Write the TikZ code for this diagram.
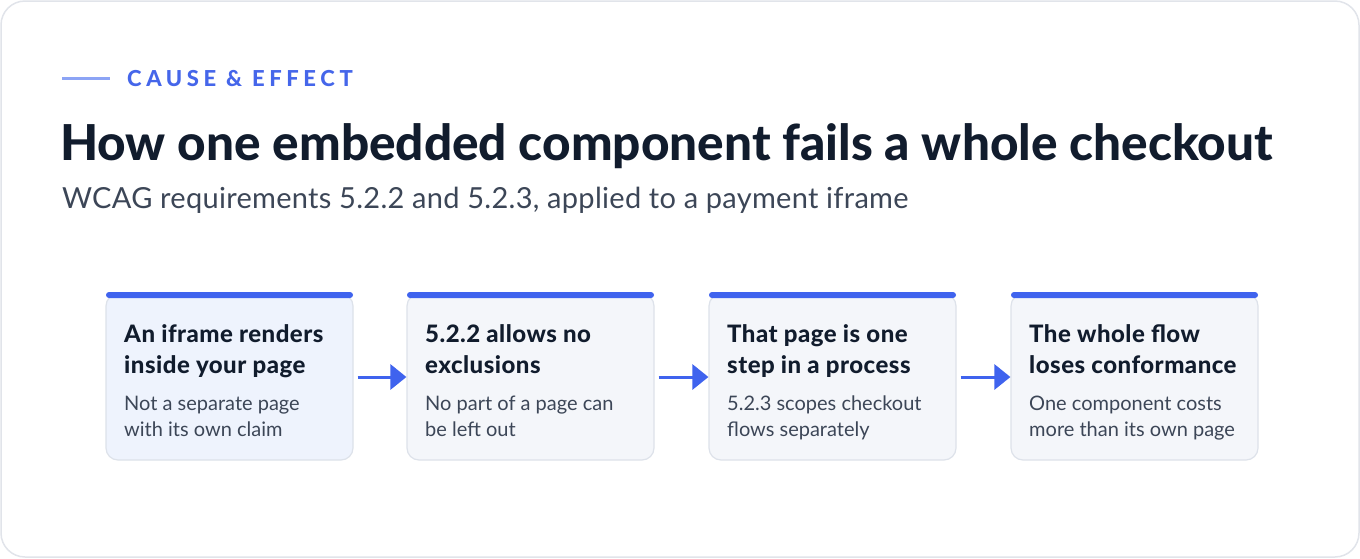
\documentclass[tikz,border=0pt]{standalone}
\usepackage{fontspec}
\setmainfont{Lato}
\newfontfamily\heavyfont{Lato Heavy}
\usetikzlibrary{arrows.meta}
\definecolor{frameC}{HTML}{E1E4EA}
\definecolor{blueC}{HTML}{3F63EE}
\definecolor{kickC}{HTML}{4566EA}
\definecolor{lineC}{HTML}{8CA4F5}
\definecolor{darkC}{HTML}{111C2D}
\definecolor{grayC}{HTML}{3C4657}
\definecolor{boxA}{HTML}{EEF3FD}
\definecolor{boxB}{HTML}{F4F6FA}
\definecolor{boxE}{HTML}{DDE2EA}
\tikzset{
  card/.style={draw=boxE, line width=1.2pt, rounded corners=12pt, minimum width=247pt, minimum height=166pt, inner sep=0pt},
  bar/.style={fill=blueC, rounded corners=3pt},
  ttl/.style={anchor=base west, inner sep=0pt, text=darkC, font=\heavyfont\fontsize{24}{26}\selectfont\addfontfeatures{LetterSpace=2}},
  bdy/.style={anchor=base west, inner sep=0pt, text=grayC, font=\fontsize{20}{24}\selectfont},
  flow/.style={draw=blueC, line width=3pt, -{Triangle[length=16pt,width=25pt]}, shorten <=4pt},
}
\begin{document}
\begin{tikzpicture}[x=1pt,y=-1pt]
\useasboundingbox (0,0) rectangle (1360,558);
\draw[frameC, line width=1.5pt, rounded corners=24pt, fill=white] (1,1) rectangle (1359,557);
% kicker
\coordinate (kl) at (62,78);
\coordinate (kr) at (110,78);
\draw[lineC, line width=3pt] (kl) -- (kr);
\node[anchor=base west, inner sep=0pt, text=kickC, font=\heavyfont\fontsize{22}{26}\selectfont\addfontfeatures{LetterSpace=21}] (kick) at (127,86) {CAUSE \& EFFECT};
\node[anchor=base west, inner sep=0pt, text=darkC, font=\heavyfont\fontsize{49.5}{52}\selectfont] (title) at (60,160) {How one embedded component fails a whole checkout};
\node[anchor=base west, inner sep=0pt, text=grayC, font=\fontsize{29}{32}\selectfont\addfontfeatures{LetterSpace=1}] (sub) at (62,208) {WCAG requirements 5.2.2 and 5.2.3, applied to a payment iframe};
% cards
\foreach \i/\cx/\fc in {1/229.5/boxA,2/530.5/boxB,3/832.5/boxB,4/1134.5/boxB}{
  \node[card, fill=\fc] (c\i) at (\cx,377) {};
  \fill[bar] (\cx-123.5,292) rectangle (\cx+123.5,298);
}
\node[ttl] (t1a) at (124,342) {An iframe renders};
\node[ttl] (t1b) at (124,373) {inside your page};
\node[bdy] (b1a) at (124,410) {Not a separate page};
\node[bdy] (b1b) at (124,436) {with its own claim};
\node[ttl] (t2a) at (425,342) {5.2.2 allows no};
\node[ttl] (t2b) at (425,373) {exclusions};
\node[bdy] (b2a) at (425,410) {No part of a page can};
\node[bdy] (b2b) at (425,436) {be left out};
\node[ttl] (t3a) at (727,342) {That page is one};
\node[ttl] (t3b) at (727,373) {step in a process};
\node[bdy] (b3a) at (727,410) {5.2.3 scopes checkout};
\node[bdy] (b3b) at (727,436) {flows separately};
\node[ttl] (t4a) at (1029,342) {The whole flow};
\node[ttl] (t4b) at (1029,373) {loses conformance};
\node[bdy] (b4a) at (1029,410) {One component costs};
\node[bdy] (b4b) at (1029,436) {more than its own page};
\draw[flow] (c1.east) -- (c2.west);
\draw[flow] (c2.east) -- (c3.west);
\draw[flow] (c3.east) -- (c4.west);
\end{tikzpicture}
\end{document}
